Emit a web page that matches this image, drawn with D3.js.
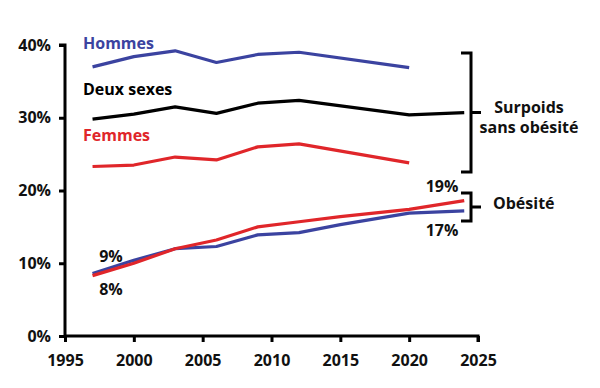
<!DOCTYPE html>
<html>
<head>
<meta charset="utf-8">
<script src="https://cdn.jsdelivr.net/npm/d3@7"></script>
<style>
  body { margin: 0; background: #fff; }
  svg text { font-family: "Open Sans", "Noto Sans", sans-serif; font-weight: bold; }
</style>
</head>
<body>
<script>
// survey years
var years = [1997, 2000, 2003, 2006, 2009, 2012, 2020];
var yearsObese = [1997, 2000, 2003, 2006, 2009, 2012, 2015, 2020, 2024];

// surpoids sans obésité (%)
var hommesSurpoids = [37.0, 38.4, 39.2, 37.6, 38.7, 39.0, 36.9];
var deuxSexesSurpoids = [29.8, 30.5, 31.5, 30.6, 32.0, 32.4, 30.4, 30.7];
var deuxSexesYears = [1997, 2000, 2003, 2006, 2009, 2012, 2020, 2024];
var femmesSurpoids = [23.3, 23.5, 24.6, 24.2, 26.0, 26.4, 23.8];

// obésité (%)
var hommesObesite = [8.6, 10.4, 12.0, 12.3, 13.9, 14.2, 15.3, 16.9, 17.2];
var femmesObesite = [8.3, 10.0, 12.0, 13.2, 15.0, 15.7, 16.4, 17.4, 18.6];

var yTicks = [0, 10, 20, 30, 40];
var xTicks = [1995, 2000, 2005, 2010, 2015, 2020, 2025];

var blue = "#3b43a0";
var red = "#e0262a";

var width = 600, height = 388;

var svg = d3.select("body")
  .append("svg")
    .attr("width", width)
    .attr("height", height);

var x = d3.scaleLinear().domain([1995, 2025]).range([65, 478]);
var y = d3.scaleLinear().domain([0, 40]).range([336, 45]);

// axes
var leftAxis = d3.axisLeft(y).tickValues(yTicks).tickSize(6).tickFormat(function(d) { return d + "%"; });
var gy = svg.append("g")
  .attr("transform", "translate(65,0)")
  .call(leftAxis);
gy.select(".domain").attr("stroke-width", 3).attr("d", "M-6," + y(40) + "H0V" + y(0));
gy.selectAll(".tick line").attr("stroke-width", 3);
gy.selectAll(".tick text").attr("font-size", "16px").attr("fill", "#111").attr("x", -14);

var bottomAxis = d3.axisBottom(x).tickValues(xTicks).tickSize(6).tickFormat(d3.format("d"));
var gx = svg.append("g")
  .attr("transform", "translate(0,336)")
  .call(bottomAxis);
gx.select(".domain").attr("stroke-width", 3).attr("d", "M" + x(1995) + ",0H" + x(2025) + "V6");
gx.selectAll(".tick line").attr("stroke-width", 3);
gx.selectAll(".tick text").attr("font-size", "16px").attr("fill", "#111").attr("y", 19);

// lines
function drawLine(xs, vals, color) {
  var pts = xs.map(function(d, i) { return [d, vals[i]]; });
  svg.append("path")
    .datum(pts)
    .attr("fill", "none")
    .attr("stroke", color)
    .attr("stroke-width", 3.2)
    .attr("stroke-linejoin", "round")
    .attr("d", d3.line()
      .x(function(d) { return x(d[0]); })
      .y(function(d) { return y(d[1]); }));
}

drawLine(years, hommesSurpoids, blue);
drawLine(deuxSexesYears, deuxSexesSurpoids, "#000");
drawLine(years, femmesSurpoids, red);
drawLine(yearsObese, hommesObesite, blue);
drawLine(yearsObese, femmesObesite, red);

// labels
function label(tx, ty, txt, color, anchor) {
  svg.append("text")
    .attr("x", tx)
    .attr("y", ty)
    .attr("font-size", "16px")
    .attr("fill", color)
    .attr("text-anchor", anchor || "start")
    .text(txt);
}

label(83, 49, "Hommes", blue);
label(83, 95, "Deux sexes", "#000");
label(83, 141, "Femmes", red);
label(529, 113, "Surpoids", "#111", "middle");
label(529, 133, "sans obésité", "#111", "middle");
label(493, 209, "Obésité", "#111");
label(442, 192, "19%", "#111", "middle");
label(442, 236, "17%", "#111", "middle");
label(111, 262, "9%", "#111", "middle");
label(111, 295, "8%", "#111", "middle");

// brackets
function bracket(top, bottom, bx) {
  var mid = (top + bottom) / 2;
  svg.append("path")
    .attr("fill", "none")
    .attr("stroke", "#000")
    .attr("stroke-width", 3)
    .attr("d", "M" + (bx - 10) + "," + top + "H" + bx + "V" + bottom + "H" + (bx - 10) +
      "M" + bx + "," + mid + "H" + (bx + 10));
}

bracket(53, 172, 471);
bracket(193, 221, 471);
</script>
</body>
</html>
